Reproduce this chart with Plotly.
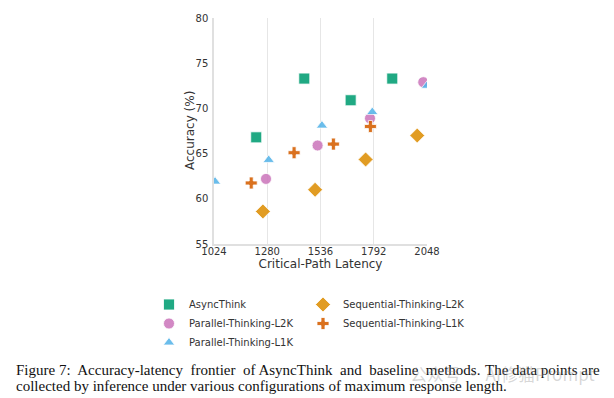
import plotly.graph_objects as go

# ---- data ----
async_lat = [1227, 1458, 1681, 1881]
async_acc = [66.8, 73.3, 70.9, 73.3]
p2k_lat = [1274, 1522, 1774, 2030]
p2k_acc = [62.2, 65.9, 68.9, 72.9]
p1k_lat = [1029, 1287, 1543, 1785, 2048]
p1k_acc = [61.9, 64.3, 68.1, 69.6, 72.5]
s2k_lat = [1259, 1510, 1753, 2001]
s2k_acc = [58.6, 61.0, 64.35, 67.0]
s1k_lat = [1203, 1409, 1598, 1776]
s1k_acc = [61.75, 65.1, 66.05, 68.0]

x_ticks = [1024, 1280, 1536, 1792, 2048]
y_ticks = [55, 60, 65, 70, 75, 80]

W, H = 614, 398
L, R, T, B = 214, 427, 18, 244  # plot area in pixels


def px_x(p):
    return (p - L) / (R - L)


def px_y(p):
    return (B - p) / (B - T)


fig = go.Figure()

series = [
    ("AsyncThink", async_lat, async_acc, "square", 11, "#029E73", "legend", 1),
    ("Parallel-Thinking-L2K", p2k_lat, p2k_acc, "circle", 11, "#CC78BC", "legend", 2),
    ("Parallel-Thinking-L1K", p1k_lat, p1k_acc, "triangle-up", 10, "#56B4E9", "legend", 3),
    ("Sequential-Thinking-L2K", s2k_lat, s2k_acc, "diamond", 11.5, "#DE8F05", "legend2", 4),
    ("Sequential-Thinking-L1K", s1k_lat, s1k_acc, "cross", 10, "#D55E00", "legend2", 5),
]

for name, xs, ys, sym, size, col, leg, rank in series:
    fig.add_trace(go.Scatter(
        x=xs, y=ys, mode="markers", name=name, legend=leg, legendrank=rank,
        marker=dict(symbol=sym, size=size, color=col, opacity=0.88,
                    line=dict(color="white", width=0.8)),
        cliponaxis=True,
    ))

axis_font = dict(family="DejaVu Sans", size=10, color="#333333")
title_font = dict(family="DejaVu Sans", size=12, color="#333333")

fig.update_layout(
    width=W, height=H,
    margin=dict(l=L, r=W - R, t=T, b=H - B, pad=0),
    paper_bgcolor="white", plot_bgcolor="white",
    font=dict(family="DejaVu Sans", color="#333333"),
    xaxis=dict(
        range=[1024, 2048], tickvals=x_ticks, ticktext=[str(v) for v in x_ticks],
        showgrid=True, gridcolor="#e6e6e6", gridwidth=1,
        showline=True, linecolor="#e0e0e0", linewidth=1.5,
        zeroline=False, ticks="", tickfont=axis_font, ticklabelstandoff=-3,
        title=dict(text="Critical-Path Latency", font=title_font, standoff=0),
    ),
    yaxis=dict(
        range=[55, 80], tickvals=y_ticks, ticktext=[str(v) for v in y_ticks],
        showgrid=False,
        showline=True, linecolor="#e0e0e0", linewidth=1.5,
        zeroline=False, ticks="", tickfont=axis_font, ticklabelstandoff=2,
    ),
    legend=dict(
        x=px_x(149), xanchor="left", y=px_y(290), yanchor="top",
        orientation="v", bgcolor="rgba(0,0,0,0)",
        font=dict(family="DejaVu Sans", size=10, color="#333333"),
    ),
    legend2=dict(
        x=px_x(303), xanchor="left", y=px_y(290), yanchor="top",
        orientation="v", bgcolor="rgba(0,0,0,0)",
        font=dict(family="DejaVu Sans", size=10, color="#333333"),
    ),
    showlegend=True,
)

# y-axis title
fig.add_annotation(
    text="Accuracy (%)", textangle=-90,
    xref="paper", yref="paper", x=px_x(190), y=0.5,
    xanchor="center", yanchor="middle", showarrow=False, font=title_font,
)

cap_font = dict(family="Liberation Serif", size=15, color="#111111")
wide = "\u00a0 "
fig.add_annotation(
    text="Figure 7:  Accuracy-latency" + wide + "frontier" + wide + "of AsyncThink" + wide
         + "and" + wide + "baseline" + wide + "methods.",
    xref="paper", yref="paper", x=px_x(14), y=px_y(370),
    xanchor="left", yanchor="middle", showarrow=False, font=cap_font,
)
fig.add_annotation(
    text="The data points are",
    xref="paper", yref="paper", x=px_x(602), y=px_y(370),
    xanchor="right", yanchor="middle", showarrow=False, font=cap_font,
)
fig.add_annotation(
    text="collected by inference under various configurations of maximum response length.",
    xref="paper", yref="paper", x=px_x(14), y=px_y(386),
    xanchor="left", yanchor="middle", showarrow=False, font=cap_font,
)
fig.add_annotation(
    text="公众号 · AI修猫Prompt",
    xref="paper", yref="paper", x=px_x(502), y=px_y(373),
    xanchor="center", yanchor="middle", showarrow=False,
    font=dict(family="Noto Sans CJK SC", size=17, color="rgba(140,140,140,0.35)"),
)

fig.write_html(
    "out.html",
    config={"displayModeBar": False},
    post_script="document.body.style.margin='0';document.body.style.overflow='hidden';",
)
